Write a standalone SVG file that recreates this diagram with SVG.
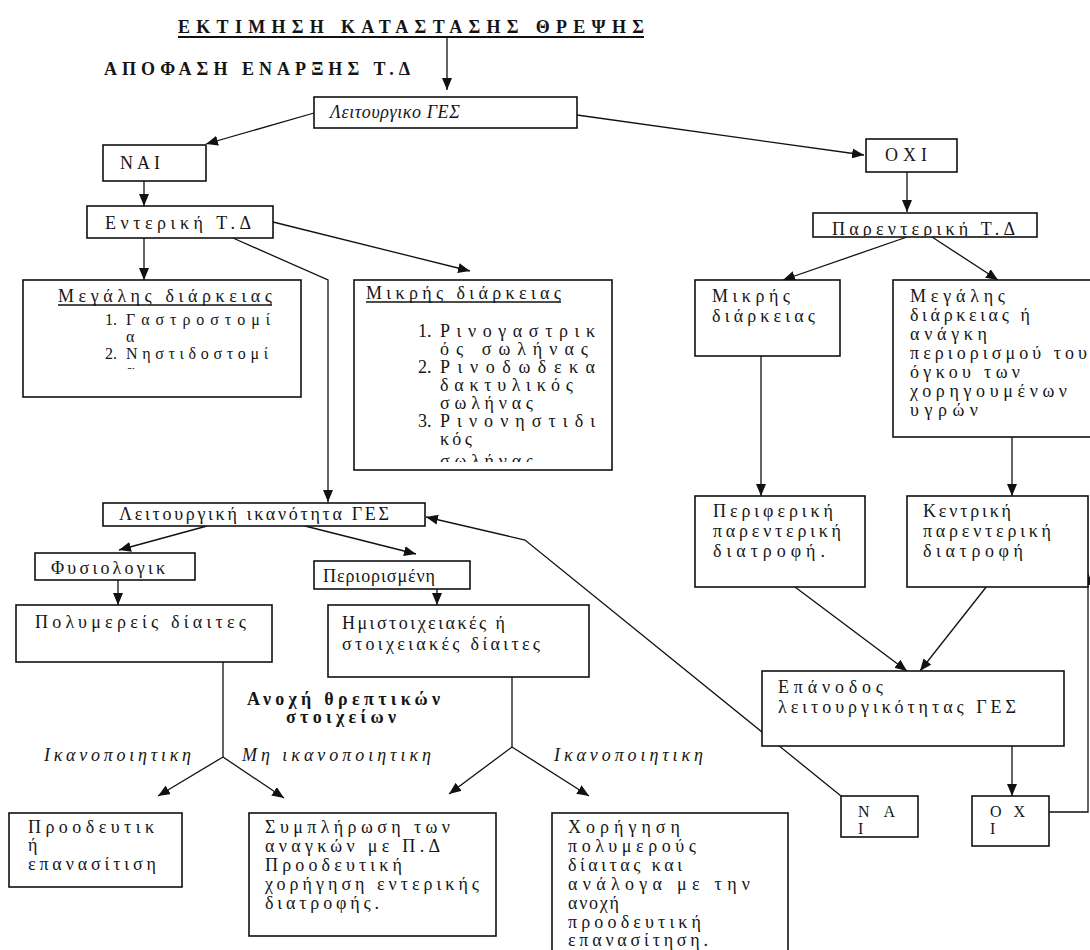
<svg xmlns="http://www.w3.org/2000/svg" width="1090" height="950" viewBox="0 0 1090 950">
<style>
text{font-family:"Liberation Serif","DejaVu Serif",serif;font-size:18px;fill:#151515}
.b{font-weight:bold}
.i{font-style:italic}
.box{fill:#fff;stroke:#111;stroke-width:1.6}
.c{fill:none;stroke:#111;stroke-width:1.3}
.a{marker-end:url(#ah)}
.u{stroke:#111;stroke-width:1.3}
.s{font-size:16px}
</style>
<defs>
<marker id="ah" viewBox="0 0 12 10" refX="12" refY="5" markerWidth="12" markerHeight="10" orient="auto" markerUnits="userSpaceOnUse"><path d="M0,0 L12,5 L0,10 z" fill="#111"/></marker>
<clipPath id="cpMeg"><rect x="23" y="280" width="278" height="89"/></clipPath>
<clipPath id="cpMik"><rect x="354" y="280" width="258" height="182"/></clipPath>
<clipPath id="cpPar"><rect x="813" y="213" width="224" height="23"/></clipPath>
</defs>
<rect width="1090" height="950" fill="#fff"/>

<g id="title">
<text x="178" y="33" class="b" font-size="26" textLength="466" lengthAdjust="spacing">ΕΚΤΙΜΗΣΗ ΚΑΤΑΣΤΑΣΗΣ ΘΡΕΨΗΣ</text>
<line x1="178" y1="37" x2="644" y2="37" stroke="#111" stroke-width="2"/>
<text x="104" y="75" class="b" font-size="19" textLength="306" lengthAdjust="spacing">ΑΠΟΦΑΣΗ ΕΝΑΡΞΗΣ Τ.Δ</text>
</g>

<g id="connectors">
<line class="c a" x1="447" y1="38" x2="447" y2="90"/>
<line class="c a" x1="314" y1="113" x2="206" y2="144"/>
<line class="c a" x1="577" y1="115" x2="864" y2="155"/>
<line class="c a" x1="144" y1="181" x2="144" y2="206"/>
<line class="c a" x1="144" y1="238" x2="144" y2="280"/>
<line class="c a" x1="273" y1="222" x2="470" y2="271"/>
<polyline class="c a" points="233,238 328,280 328,502"/>
<line class="c a" x1="907" y1="172" x2="907" y2="212"/>
<line class="c a" x1="907" y1="237" x2="783" y2="280"/>
<line class="c a" x1="932" y1="237" x2="998" y2="280"/>
<line class="c a" x1="761" y1="328" x2="761" y2="496"/>
<line class="c a" x1="1012" y1="413" x2="1012" y2="496"/>
<line class="c a" x1="775" y1="572" x2="907" y2="671"/>
<line class="c a" x1="998" y1="572" x2="920" y2="671"/>
<line class="c a" x1="1012" y1="728" x2="1012" y2="796"/>
<polyline class="c a" points="1049,812 1088,812 1088,573"/>
<polyline class="c a" points="841,796 525,540 426,517"/>
<line class="c a" x1="207" y1="526" x2="119" y2="550"/>
<line class="c a" x1="305" y1="526" x2="416" y2="554"/>
<line class="c a" x1="118" y1="580" x2="118" y2="605"/>
<line class="c a" x1="437" y1="575" x2="437" y2="605"/>
<polyline class="c" points="223,635 223,757"/>
<line class="c a" x1="223" y1="757" x2="158" y2="796"/>
<line class="c a" x1="223" y1="757" x2="284" y2="798"/>
<polyline class="c" points="512,663 512,747"/>
<line class="c a" x1="512" y1="747" x2="449" y2="794"/>
<line class="c a" x1="512" y1="747" x2="589" y2="796"/>
</g>

<g id="n-leit">
<rect class="box" x="314" y="97" width="263" height="31"/>
<text x="330" y="118" class="i" font-size="15" letter-spacing="0.6">Λειτουργικο ΓΕΣ</text>
</g>

<g id="n-nai">
<rect class="box" x="103" y="145" width="103" height="36"/>
<text x="120" y="169" textLength="40" lengthAdjust="spacing">ΝΑΙ</text>
</g>

<g id="n-enteriki">
<rect class="box" x="87" y="206" width="186" height="32"/>
<text x="105" y="229" textLength="146" lengthAdjust="spacing">Εντερική Τ.Δ</text>
</g>

<g id="n-megalis">
<rect class="box" x="23" y="280" width="278" height="117"/>
<text x="58" y="302" textLength="214" lengthAdjust="spacing">Μεγάλης διάρκειας</text>
<line class="u" x1="58" y1="305" x2="272" y2="305"/>
<g clip-path="url(#cpMeg)">
<text x="105" y="325" class="s">1.</text>
<text x="126" y="325" class="s" textLength="144" lengthAdjust="spacing">Γαστροστομί</text>
<text x="126" y="342" class="s">α</text>
<text x="105" y="359" class="s">2.</text>
<text x="126" y="359" class="s" textLength="142" lengthAdjust="spacing">Νηστιδοστομί</text>
<text x="126" y="376" class="s">α</text>
</g>
</g>

<g id="n-mikris">
<rect class="box" x="354" y="280" width="258" height="190"/>
<text x="366" y="299" textLength="195" lengthAdjust="spacing">Μικρής διάρκειας</text>
<line class="u" x1="366" y1="302" x2="561" y2="302"/>
<g clip-path="url(#cpMik)">
<text x="418" y="337">1.</text>
<text x="440" y="337" textLength="155" lengthAdjust="spacing">Ρινογαστρικ</text>
<text x="440" y="355" textLength="148" lengthAdjust="spacing">ός σωλήνας</text>
<text x="418" y="373">2.</text>
<text x="440" y="373" textLength="155" lengthAdjust="spacing">Ρινοδωδεκα</text>
<text x="440" y="391" textLength="133" lengthAdjust="spacing">δακτυλικός</text>
<text x="440" y="409" textLength="93" lengthAdjust="spacing">σωλήνας</text>
<text x="418" y="427">3.</text>
<text x="440" y="427" textLength="155" lengthAdjust="spacing">Ρινονηστιδι</text>
<text x="440" y="445" textLength="32" lengthAdjust="spacing">κός</text>
<text x="440" y="467" textLength="93" lengthAdjust="spacing">σωλήνας</text>
</g>
</g>

<g id="n-oxi">
<rect class="box" x="866" y="139" width="91" height="33"/>
<text x="885" y="161" textLength="42" lengthAdjust="spacing">ΟΧΙ</text>
</g>

<g id="n-parenteriki">
<rect class="box" x="813" y="213" width="224" height="24"/>
<text x="832" y="235" font-size="20" clip-path="url(#cpPar)" textLength="183" lengthAdjust="spacing">Παρεντερική Τ.Δ</text>
</g>

<g id="n-mikris2">
<rect class="box" x="695" y="280" width="145" height="76"/>
<text x="712" y="302" textLength="78" lengthAdjust="spacing">Μικρής</text>
<text x="712" y="322" textLength="103" lengthAdjust="spacing">διάρκειας</text>
</g>

<g id="n-megalis2">
<rect class="box" x="893" y="280" width="210" height="157"/>
<text x="910" y="302" textLength="95" lengthAdjust="spacing">Μεγάλης</text>
<text x="910" y="321" textLength="120" lengthAdjust="spacing">διάρκειας ή</text>
<text x="910" y="340" textLength="77" lengthAdjust="spacing">ανάγκη</text>
<text x="910" y="359" textLength="177" lengthAdjust="spacing">περιορισμού του</text>
<text x="910" y="378" textLength="110" lengthAdjust="spacing">όγκου των</text>
<text x="910" y="397" textLength="157" lengthAdjust="spacing">χορηγουμένων</text>
<text x="910" y="416" textLength="68" lengthAdjust="spacing">υγρών</text>
</g>

<g id="n-perifereiaki">
<rect class="box" x="695" y="496" width="170" height="91"/>
<text x="713" y="517" textLength="120" lengthAdjust="spacing">Περιφερική</text>
<text x="713" y="537" textLength="128" lengthAdjust="spacing">παρεντερική</text>
<text x="713" y="557" textLength="112" lengthAdjust="spacing">διατροφή.</text>
</g>

<g id="n-kentriki">
<rect class="box" x="907" y="496" width="181" height="91"/>
<text x="923" y="517" textLength="88" lengthAdjust="spacing">Κεντρική</text>
<text x="923" y="537" textLength="128" lengthAdjust="spacing">παρεντερική</text>
<text x="923" y="557" textLength="100" lengthAdjust="spacing">διατροφή</text>
</g>

<g id="n-epanodos">
<rect class="box" x="762" y="671" width="302" height="75"/>
<text x="778" y="693" textLength="105" lengthAdjust="spacing">Επάνοδος</text>
<text x="778" y="713" textLength="238" lengthAdjust="spacing">λειτουργικότητας ΓΕΣ</text>
</g>

<g id="n-nai2">
<rect class="box" x="841" y="796" width="77" height="41"/>
<text x="858" y="817" class="s" textLength="37" lengthAdjust="spacing">ΝΑ</text>
<text x="858" y="834" class="s">Ι</text>
</g>

<g id="n-oxi2">
<rect class="box" x="972" y="796" width="77" height="50"/>
<text x="990" y="817" class="s" textLength="35" lengthAdjust="spacing">ΟΧ</text>
<text x="990" y="834" class="s">Ι</text>
</g>

<g id="n-leit-ikanotita">
<rect class="box" x="103" y="503" width="322" height="23"/>
<text x="119" y="520" font-size="17" textLength="270" lengthAdjust="spacing">Λειτουργική ικανότητα ΓΕΣ</text>
</g>

<g id="n-fysiologiki">
<rect class="box" x="35" y="553" width="160" height="27"/>
<text x="51" y="574" textLength="114" lengthAdjust="spacing">Φυσιολογικ</text>
</g>

<g id="n-periorismeni">
<rect class="box" x="314" y="561" width="156" height="28"/>
<text x="323" y="582" textLength="112" lengthAdjust="spacing">Περιορισμένη</text>
</g>

<g id="n-polymereis">
<rect class="box" x="16" y="605" width="256" height="57"/>
<text x="35" y="628" font-size="20" textLength="211" lengthAdjust="spacing">Πολυμερείς δίαιτες</text>
</g>

<g id="n-imistoixeiakes">
<rect class="box" x="328" y="605" width="261" height="72"/>
<text x="342" y="629" font-size="19" textLength="163" lengthAdjust="spacing">Ημιστοιχειακές ή</text>
<text x="342" y="650" font-size="19" textLength="198" lengthAdjust="spacing">στοιχειακές δίαιτες</text>
</g>

<g id="labels">
<text x="247" y="705" class="b" textLength="193" lengthAdjust="spacing">Ανοχή θρεπτικών</text>
<text x="286" y="723" class="b" textLength="110" lengthAdjust="spacing">στοιχείων</text>
<text x="44" y="761" class="i" font-size="19" textLength="147" lengthAdjust="spacing">Ικανοποιητικη</text>
<text x="242" y="761" class="i" font-size="19" textLength="189" lengthAdjust="spacing">Μη ικανοποιητικη</text>
<text x="554" y="761" class="i" font-size="19" textLength="149" lengthAdjust="spacing">Ικανοποιητικη</text>
</g>

<g id="n-proodeytiki">
<rect class="box" x="9" y="813" width="173" height="74"/>
<text x="28" y="833" textLength="126" lengthAdjust="spacing">Προοδευτικ</text>
<text x="28" y="851">ή</text>
<text x="28" y="870" textLength="128" lengthAdjust="spacing">επανασίτιση</text>
</g>

<g id="n-symplirosi">
<rect class="box" x="249" y="813" width="247" height="123"/>
<text x="265" y="833" textLength="185" lengthAdjust="spacing">Συμπλήρωση των</text>
<text x="265" y="852" textLength="175" lengthAdjust="spacing">αναγκών με Π.Δ</text>
<text x="265" y="871" textLength="137" lengthAdjust="spacing">Προοδευτική</text>
<text x="265" y="890" textLength="214" lengthAdjust="spacing">χορήγηση εντερικής</text>
<text x="265" y="909" textLength="114" lengthAdjust="spacing">διατροφής.</text>
</g>

<g id="n-xorigisi">
<rect class="box" x="552" y="813" width="236" height="160"/>
<text x="568" y="833" textLength="112" lengthAdjust="spacing">Χορήγηση</text>
<text x="568" y="852" textLength="128" lengthAdjust="spacing">πολυμερούς</text>
<text x="568" y="871" textLength="114" lengthAdjust="spacing">δίαιτας και</text>
<text x="568" y="890" textLength="182" lengthAdjust="spacing">ανάλογα με την</text>
<text x="568" y="909" textLength="51" lengthAdjust="spacing">ανοχή</text>
<text x="568" y="928" textLength="133" lengthAdjust="spacing">προοδευτική</text>
<text x="568" y="946" textLength="140" lengthAdjust="spacing">επανασίτηση.</text>
</g>
</svg>
